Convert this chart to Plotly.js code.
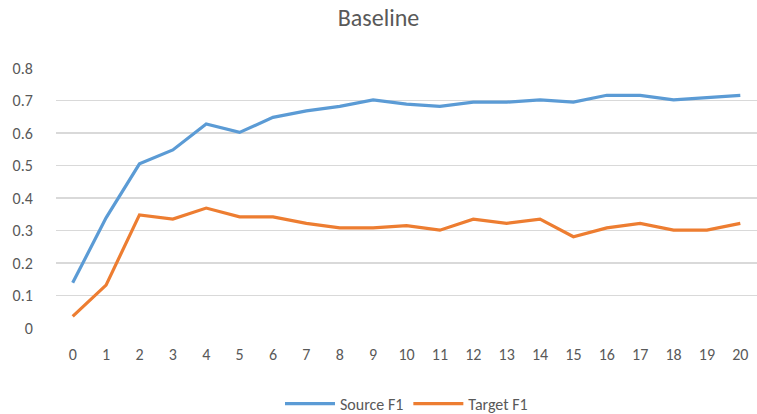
<!DOCTYPE html>
<html>
<head>
<meta charset="utf-8">
<script src="https://cdn.plot.ly/plotly-3.0.1.min.js"></script>
<style>html,body{margin:0;padding:0;background:#fff;}#chart{width:757px;height:414px;}</style>
</head>
<body>
<div id="chart"></div>
<script>
const epochs = [0,1,2,3,4,5,6,7,8,9,10,11,12,13,14,15,16,17,18,19,20];
const sourceF1 = [0.139,0.339,0.505,0.548,0.628,0.602,0.648,0.668,0.682,0.702,0.689,0.682,0.695,0.695,0.702,0.695,0.716,0.716,0.702,0.708,0.716];
const targetF1 = [0.036,0.132,0.348,0.335,0.369,0.342,0.342,0.322,0.308,0.308,0.315,0.301,0.335,0.322,0.335,0.281,0.308,0.322,0.301,0.301,0.322];
const yTicks = [0,0.1,0.2,0.3,0.4,0.5,0.6,0.7,0.8];
const yTickLabels = ["0","0.1","0.2","0.3","0.4","0.5","0.6","0.7","0.8"];

const font = "Carlito, Lato, 'Open Sans', sans-serif";
const traces = [
  {x: epochs, y: sourceF1, type: 'scatter', mode: 'lines', name: 'Source F1',
   line: {color: '#5B9BD5', width: 3.2}},
  {x: epochs, y: targetF1, type: 'scatter', mode: 'lines', name: 'Target F1',
   line: {color: '#ED7D31', width: 3.2}}
];
const layout = {
  width: 757, height: 414,
  margin: {l: 56, r: 0, t: 68, b: 86, autoexpand: false},
  paper_bgcolor: '#fff', plot_bgcolor: '#fff',
  font: {family: font, color: '#595959', size: 16},
  title: {text: 'Baseline', x: 0.5, xanchor: 'center', y: 0.957, yanchor: 'middle',
          font: {family: font, size: 24, color: '#595959'}},
  xaxis: {range: [-0.5, 20.5], tickvals: epochs, ticktext: epochs.map(String),
          showgrid: false, zeroline: false, showline: false, automargin: false,
          ticks: 'outside', ticklen: 12, tickcolor: 'rgba(0,0,0,0)',
          tickfont: {size: 16, color: '#595959'}, fixedrange: true},
  yaxis: {range: [0, 0.8], tickvals: yTicks, ticktext: yTickLabels,
          showgrid: true, gridcolor: '#D9D9D9', gridwidth: 1.3, zeroline: false, showline: false,
          automargin: false,
          ticks: 'outside', ticklen: 19, tickcolor: 'rgba(0,0,0,0)',
          tickfont: {size: 16, color: '#595959'}, fixedrange: true},
  showlegend: true,
  legend: {orientation: 'h', x: 0.5, xanchor: 'center', yref: 'container', y: 0.025, yanchor: 'middle',
           font: {size: 16, color: '#595959'}, itemwidth: 50, tracegroupgap: 0}
};
Plotly.newPlot('chart', traces, layout, {displayModeBar: false, staticPlot: true});
</script>
</body>
</html>
